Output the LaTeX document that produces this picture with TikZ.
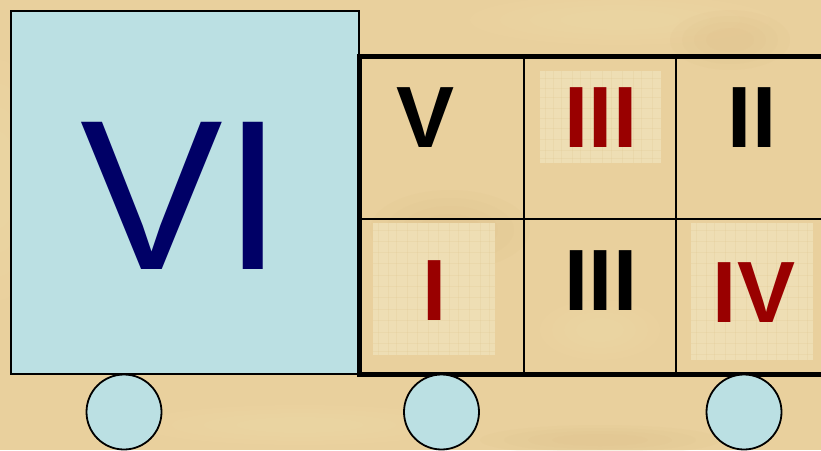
\documentclass[tikz,border=0pt]{standalone}
\usepackage{fontspec}
\setmainfont{Liberation Sans}
\definecolor{papyrus}{RGB}{233,208,157}
\definecolor{papyrusdark}{RGB}{222,192,138}
\definecolor{papyruslight}{RGB}{242,220,170}
\definecolor{patchcol}{RGB}{238,222,180}
\definecolor{patchline}{RGB}{222,196,140}
\definecolor{wagonblue}{RGB}{187,224,227}
\definecolor{navytext}{RGB}{0,0,102}
\definecolor{redtext}{RGB}{153,0,0}
\tikzset{
  bigtext/.style={inner sep=0pt, anchor=base, font=\fontsize{214}{214}\selectfont, text=navytext},
  celltext/.style={inner sep=0pt, anchor=base, font=\bfseries\fontsize{87}{87}\selectfont},
  patch/.style={fill=patchcol, draw=none},
  wheel/.style={draw=black, line width=1.8pt, fill=wagonblue},
  outerframe/.style={draw=black, line width=5pt},
  innerline/.style={draw=black, line width=2pt},
  texline/.style={patchline, opacity=0.22, line width=0.6pt},
}
\begin{document}
\begin{tikzpicture}[x=1pt,y=-1pt]
\useasboundingbox (0,0) rectangle (821,450);
\clip (0,0) rectangle (821,450);
% papyrus background
\fill[papyrus] (0,0) rectangle (821,450);
\foreach \cx/\cy/\rx/\ry/\c in {0/180/40/120/papyruslight, 620/20/150/25/papyruslight, 730/40/60/30/papyrusdark, 300/425/160/20/papyruslight, 600/440/120/15/papyrusdark, 450/230/80/40/papyrusdark, 600/330/60/30/papyruslight}{
  \foreach \k in {1,0.8,0.6,0.4}{
    \fill[\c,opacity=0.12] (\cx,\cy) ellipse ({\rx*\k} and {\ry*\k});}}
% blue box
\node[draw=black, line width=1.5pt, fill=wagonblue, inner sep=0pt, outer sep=0pt,
      minimum width=348pt, minimum height=363pt, anchor=north west] (cab) at (11,11) {};
\node[bigtext] (vi) at (182,269) {VI};
% patches
\fill[patch] (540,71) rectangle (661,163);
\fill[patch] (373,223) rectangle (495,355);
\fill[patch] (691,223) rectangle (813,360);
\foreach \x in {545,553,561,572,580,590,602,611,622,633,641,652}{
  \draw[texline] (\x,71) -- (\x,163);}
\foreach \y in {78,88,97,108,118,128,139,150,158}{
  \draw[texline] (540,\y) -- (661,\y);}
\foreach \x in {378,388,396,407,417,428,438,449,458,469,480,489}{
  \draw[texline] (\x,223) -- (\x,355);}
\foreach \y in {230,241,252,263,275,286,297,309,320,332,343,351}{
  \draw[texline] (373,\y) -- (495,\y);}
\foreach \x in {696,706,714,725,735,746,756,767,776,787,798,807}{
  \draw[texline] (\x,223) -- (\x,360);}
\foreach \y in {230,241,252,263,275,286,297,309,320,332,343,354}{
  \draw[texline] (691,\y) -- (813,\y);}
% grid coordinates
\coordinate (g1) at (524,56);
\coordinate (g2) at (524,374);
\coordinate (g3) at (676,56);
\coordinate (g4) at (676,374);
\coordinate (h1) at (359,219);
\coordinate (h2) at (830,219);
\draw[innerline] (g1) -- (g2);
\draw[innerline] (g3) -- (g4);
\draw[innerline] (h1) -- (h2);
\node[outerframe, inner sep=0pt, outer sep=0pt, minimum width=480pt, minimum height=318pt, anchor=north west] (frame) at (359,56) {};
% cell texts
\node[celltext, text=black] (t5) at (426,147) {V};
\node[celltext, text=redtext] (t3a) at (601,147.5) {III};
\node[celltext, text=black] (t2) at (752,147) {II};
\node[celltext, text=redtext] (t1) at (434.5,320) {I};
\node[celltext, text=black] (t3b) at (601,310) {III};
\node[celltext, text=redtext] (t4) at (754,322) {IV};
% wheels
\node[wheel, circle, minimum size=75pt, inner sep=0pt] (w1) at (124,412) {};
\node[wheel, circle, minimum size=75pt, inner sep=0pt] (w2) at (441.5,412) {};
\node[wheel, circle, minimum size=75pt, inner sep=0pt] (w3) at (744,412) {};
\end{tikzpicture}
\end{document}
